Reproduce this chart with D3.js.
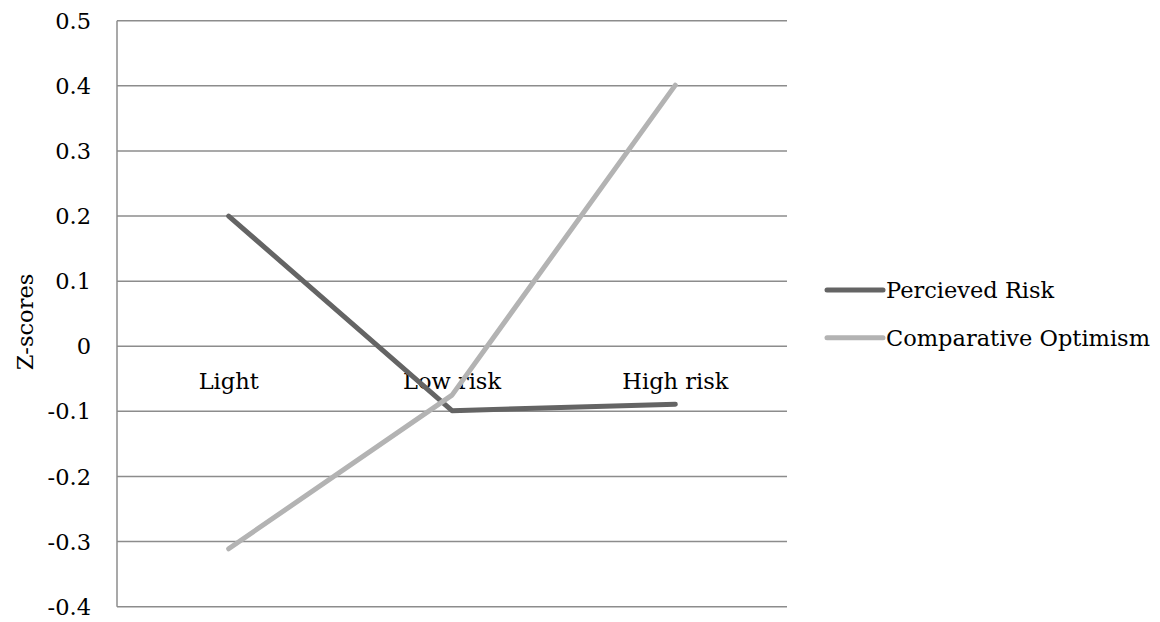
<!DOCTYPE html>
<html>
<head>
<meta charset="utf-8">
<script src="https://cdn.jsdelivr.net/npm/d3@7"></script>
<style>
  html, body { margin: 0; padding: 0; background: #fff; }
  svg { display: block; font-family: "DejaVu Serif", serif; }
</style>
</head>
<body>
<svg id="chart" width="1160" height="622"></svg>
<script>
// Group labels along the horizontal axis
const categories = ["Light", "Low risk", "High risk"];

// Series z-scores per group
const perceivedRisk = [0.2, -0.099, -0.089];
const comparativeOptimism = [-0.311, -0.075, 0.401];

const seriesNames = ["Percieved Risk", "Comparative Optimism"];
const seriesColors = ["#646464", "#b3b3b3"];

// Vertical axis ticks
const yTicks = [-0.4, -0.3, -0.2, -0.1, 0, 0.1, 0.2, 0.3, 0.4, 0.5];
const yTickLabels = ["-0.4", "-0.3", "-0.2", "-0.1", "0", "0.1", "0.2", "0.3", "0.4", "0.5"];

const series = [
  { name: seriesNames[0], values: perceivedRisk, color: seriesColors[0] },
  { name: seriesNames[1], values: comparativeOptimism, color: seriesColors[1] }
];

const svg = d3.select("#chart");
const plot = { left: 117, right: 787, top: 20.7, bottom: 606.7 };

const x = d3.scaleBand().domain(categories).range([plot.left, plot.right]);
const y = d3.scaleLinear().domain([-0.4, 0.5]).range([plot.bottom, plot.top]);

const fontSize = 22.5;
const gridColor = "#8c8c8c";

// Horizontal gridlines
svg.append("g")
  .selectAll("line")
  .data(yTicks)
  .join("line")
  .attr("x1", plot.left)
  .attr("x2", plot.right)
  .attr("y1", d => y(d))
  .attr("y2", d => y(d))
  .attr("stroke", gridColor)
  .attr("stroke-width", 1.5);

// Vertical axis line
svg.append("line")
  .attr("x1", plot.left).attr("x2", plot.left)
  .attr("y1", y(0.5)).attr("y2", y(-0.4))
  .attr("stroke", gridColor)
  .attr("stroke-width", 1.5);

// Y tick labels
svg.append("g")
  .selectAll("text")
  .data(yTicks)
  .join("text")
  .attr("x", 91)
  .attr("y", d => y(d))
  .attr("dy", "0.36em")
  .attr("text-anchor", "end")
  .attr("font-size", fontSize)
  .attr("fill", "#000")
  .text((d, i) => yTickLabels[i]);

// Y axis title
svg.append("text")
  .attr("transform", `translate(33,${322}) rotate(-90)`)
  .attr("text-anchor", "middle")
  .attr("font-size", fontSize)
  .attr("fill", "#000")
  .text("Z-scores");

// Category labels sit just below the zero line
svg.append("g")
  .selectAll("text")
  .data(categories)
  .join("text")
  .attr("x", d => x(d) + x.bandwidth() / 2)
  .attr("y", y(0) + 43)
  .attr("text-anchor", "middle")
  .attr("font-size", fontSize)
  .attr("fill", "#000")
  .text(d => d);

// Series lines
const line = d3.line()
  .x((d, i) => x(categories[i]) + x.bandwidth() / 2)
  .y(d => y(d));

svg.append("g")
  .selectAll("path")
  .data(series)
  .join("path")
  .attr("d", d => line(d.values))
  .attr("fill", "none")
  .attr("stroke", d => d.color)
  .attr("stroke-width", 5)
  .attr("stroke-linecap", "round")
  .attr("stroke-linejoin", "round");

// Legend
const legend = svg.append("g")
  .selectAll("g")
  .data(series)
  .join("g")
  .attr("transform", (d, i) => `translate(827,${290 + i * 47.7})`);

legend.append("line")
  .attr("x1", 0).attr("x2", 56)
  .attr("y1", 0).attr("y2", 0)
  .attr("stroke", d => d.color)
  .attr("stroke-width", 5)
  .attr("stroke-linecap", "round");

legend.append("text")
  .attr("x", 59)
  .attr("y", 0)
  .attr("dy", "0.36em")
  .attr("font-size", fontSize)
  .attr("fill", "#000")
  .text(d => d.name);
</script>
</body>
</html>
